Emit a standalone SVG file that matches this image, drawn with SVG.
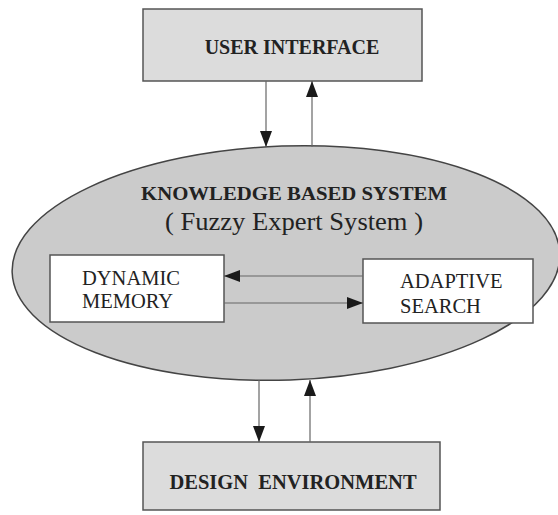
<svg xmlns="http://www.w3.org/2000/svg" width="558" height="515" viewBox="0 0 558 515">
<style>
.box{fill:#dcdcdc;stroke:#555;stroke-width:1.5}
.inner{fill:#ffffff;stroke:#555;stroke-width:1.5}
.ell{fill:#cbcbcb;stroke:#444;stroke-width:1.5}
.bt{font-family:"Liberation Serif","Times New Roman",serif;font-weight:bold;fill:#222;text-anchor:middle}
.rt{font-family:"Liberation Serif","Times New Roman",serif;font-weight:normal;fill:#222}
.conn{stroke:#666;stroke-width:1.2;fill:none}
</style>
<defs>
<marker id="ah" viewBox="0 0 16 12" refX="16" refY="6" markerWidth="16" markerHeight="12" markerUnits="userSpaceOnUse" orient="auto">
<path d="M0,0 L16,6 L0,12 Z" fill="#1a1a1a"/>
</marker>
</defs>
<rect width="558" height="515" fill="#ffffff"/>
<g id="user-interface">
<rect class="box" x="143" y="9" width="279" height="72"/>
<text class="bt" x="292" y="54" font-size="20" font-family="Liberation Serif, serif">USER INTERFACE</text>
</g>
<g id="knowledge-based-system">
<ellipse class="ell" cx="286" cy="263" rx="274" ry="117" transform="rotate(-2 286 263)"/>
<text class="bt" x="294" y="200" font-size="18" font-family="Liberation Serif, serif" textLength="306" lengthAdjust="spacingAndGlyphs">KNOWLEDGE BASED SYSTEM</text>
<text class="rt" x="294" y="230" font-size="25" font-family="Liberation Serif, serif" text-anchor="middle" textLength="258" lengthAdjust="spacingAndGlyphs">( Fuzzy Expert System )</text>
</g>
<g id="dynamic-memory">
<rect class="inner" x="50" y="255" width="174" height="67"/>
<text class="rt" x="82" y="285" font-size="20.5" font-family="Liberation Serif, serif">DYNAMIC</text>
<text class="rt" x="82" y="308" font-size="20.5" font-family="Liberation Serif, serif">MEMORY</text>
</g>
<g id="adaptive-search">
<rect class="inner" x="363" y="259" width="170" height="64"/>
<text class="rt" x="400" y="288" font-size="20.5" font-family="Liberation Serif, serif">ADAPTIVE</text>
<text class="rt" x="400" y="313" font-size="20.5" font-family="Liberation Serif, serif">SEARCH</text>
</g>
<g id="design-environment">
<rect class="box" x="143" y="442" width="297" height="68"/>
<text class="bt" x="293" y="489" font-size="20.5" font-family="Liberation Serif, serif" xml:space="preserve">DESIGN  ENVIRONMENT</text>
</g>
<g id="connectors">
<line class="conn" x1="266" y1="81" x2="266" y2="147" marker-end="url(#ah)"/>
<line class="conn" x1="312" y1="147" x2="312" y2="81" marker-end="url(#ah)"/>
<line class="conn" x1="363" y1="276" x2="224" y2="276" marker-end="url(#ah)"/>
<line class="conn" x1="224" y1="303" x2="363" y2="303" marker-end="url(#ah)"/>
<line class="conn" x1="259" y1="380" x2="259" y2="442" marker-end="url(#ah)"/>
<line class="conn" x1="310" y1="442" x2="310" y2="380" marker-end="url(#ah)"/>
</g>
</svg>
